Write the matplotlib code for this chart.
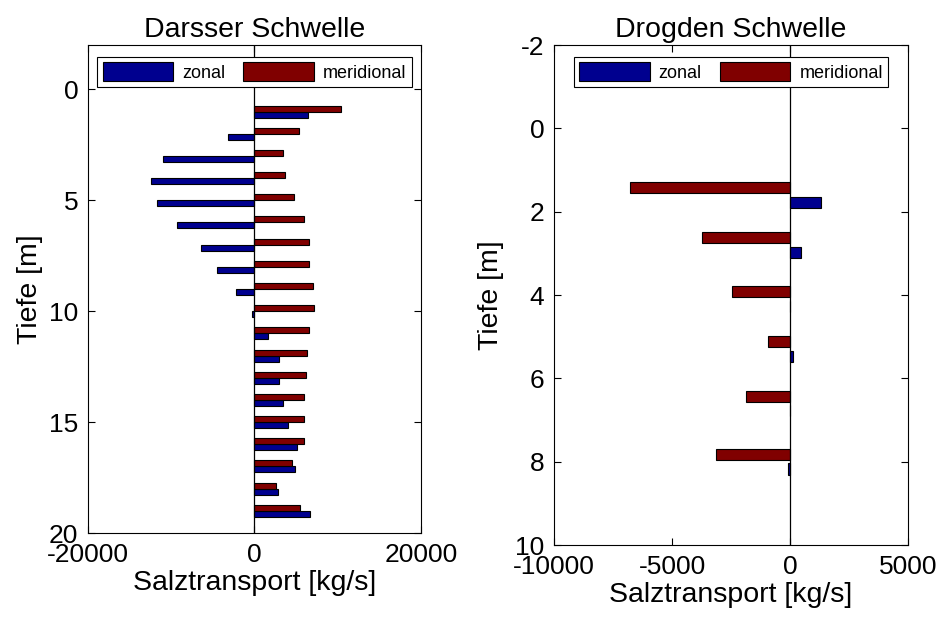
import numpy as np
import matplotlib
matplotlib.use("Agg")
import matplotlib.pyplot as plt

plt.rcParams['font.family'] = ['Liberation Sans', 'DejaVu Sans']
plt.rcParams['axes.unicode_minus'] = False

# Darsser Schwelle: depth [m], transport [kg/s]
dars_depth = [1, 2, 3, 4, 5, 6, 7, 8, 9, 10, 11, 12, 13, 14, 15, 16, 17, 18, 19]
dars_zonal = [6390, -3150, -11030, -12430, -11710, -9270, -6460, -4500, -2220, -300,
              1590, 2940, 2940, 3460, 4020, 5070, 4900, 2860, 6700]
dars_merid = [10390, 5310, 3460, 3660, 4740, 5910, 6580, 6580, 6990, 7180,
              6580, 6340, 6190, 5980, 5980, 5980, 4540, 2550, 5430]

# Drogden Schwelle
drog_depth = [1.6, 2.8, 4.1, 5.3, 6.6, 8.0]
drog_zonal = [1310, 450, 0, 110, 0, -80]
drog_merid = [-6800, -3710, -2440, -930, -1880, -3120]

c_zonal = '#00008F'
c_merid = '#800000'

fig = plt.figure(figsize=(9.43, 6.19), dpi=100)
ax1 = fig.add_axes([0.0933, 0.1389, 0.3531, 0.7884])
ax2 = fig.add_axes([0.5875, 0.1195, 0.3754, 0.8078])


def draw(ax, depth, zonal, merid, h, off, xlim, ylim, xticks, yticks, title, lx):
    d = np.array(depth)
    ax.barh(d + off, zonal, height=h, color=c_zonal, edgecolor='k', linewidth=0.8,
            label='zonal', zorder=2)
    ax.barh(d - off, merid, height=h, color=c_merid, edgecolor='k', linewidth=0.8,
            label='meridional', zorder=2)
    ax.axvline(0, color='k', lw=0.9, zorder=3)
    ax.set_xlim(xlim)
    ax.set_ylim(ylim)
    ax.set_xticks(xticks)
    ax.set_yticks(yticks)
    ax.tick_params(direction='in', top=True, right=True, length=5, width=0.8,
                   labelsize=19, pad=7)
    for s in ax.spines.values():
        s.set_linewidth(0.8)
    ax.set_title(title, fontsize=20.5, pad=6)
    ax.set_xlabel('Salztransport [kg/s]', fontsize=20.5, labelpad=2)
    ax.set_ylabel('Tiefe [m]', fontsize=20.5, labelpad=lx)
    leg = ax.legend(ncol=2, loc='upper center', bbox_to_anchor=(0.5, 0.987),
                    fontsize=13, frameon=True, fancybox=False, edgecolor='k',
                    framealpha=1, handlelength=3.9, handleheight=1.25,
                    columnspacing=1.0, handletextpad=0.5, borderaxespad=0.3,
                    borderpad=0.3)
    leg.get_frame().set_linewidth(0.8)


draw(ax1, dars_depth, dars_zonal, dars_merid, 0.27, 0.135,
     (-20000, 20000), (20, -2), [-20000, 0, 20000], [0, 5, 10, 15, 20],
     'Darsser Schwelle', 4)
draw(ax2, drog_depth, drog_zonal, drog_merid, 0.265, 0.175,
     (-10000, 5000), (10, -2), [-10000, -5000, 0, 5000], [-2, 0, 2, 4, 6, 8, 10],
     'Drogden Schwelle', 8)

fig.savefig('out.png', dpi=100)
